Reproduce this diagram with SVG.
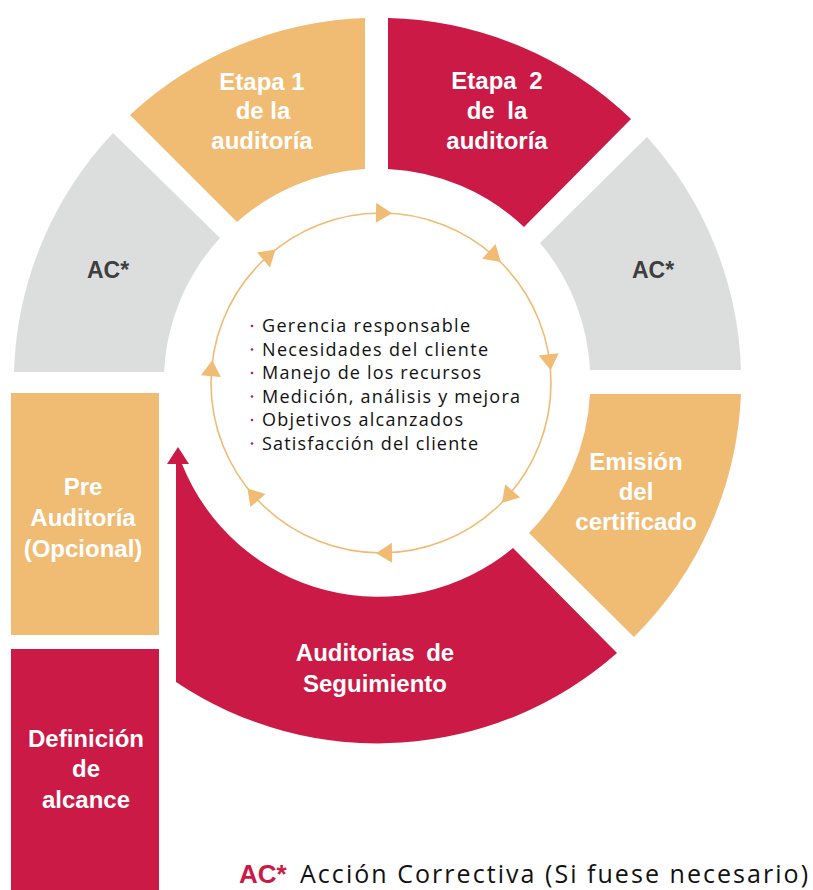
<svg xmlns="http://www.w3.org/2000/svg" width="813" height="890" viewBox="0 0 813 890">
<defs>
<style>
.or{fill:#F0BB73}
.cr{fill:#CA1A45}
.gr{fill:#DCDDDD}
.lbl{font-family:"Liberation Sans",Arial,sans-serif;font-weight:bold;font-size:24px;fill:#FFFFFF;text-anchor:middle}
.ac{font-family:"Liberation Sans",Arial,sans-serif;font-weight:bold;font-size:23px;fill:#3E3E3E;text-anchor:middle}
.li{font-family:"Open Sans","DejaVu Sans",sans-serif;font-size:18px;fill:#111111}
.dot{fill:#CA1A45}
.ring{fill:none;stroke:#F0BB73;stroke-width:1.6}
.ah{fill:#F0BB73}
</style>
<path id="tri" d="M8,0 L-8,-10 L-8,10 Z"/>
</defs>
<rect width="813" height="890" fill="#FFFFFF"/>

<g id="etapa1">
<path class="or" d="M130,115 A364,364 0 0 1 365,18 L365,169 A213,213 0 0 0 237,222 Z"/>
<text class="lbl" x="262" y="90">Etapa 1</text>
<text class="lbl" x="263" y="119">de la</text>
<text class="lbl" x="262" y="149">auditoría</text>
</g>

<g id="etapa2">
<path class="cr" d="M388,18 A364,364 0 0 1 631,119 L524,227 A213,213 0 0 0 388,169 Z"/>
<text class="lbl" x="497" y="89" word-spacing="6">Etapa 2</text>
<text class="lbl" x="497" y="119" word-spacing="6">de la</text>
<text class="lbl" x="497" y="149">auditoría</text>
</g>

<g id="ac-right">
<path class="gr" d="M647,137 A364,364 0 0 1 741,370 L590,370 A213,213 0 0 0 540,243 Z"/>
<text class="ac" x="653" y="278">AC*</text>
</g>

<g id="emision">
<path class="or" d="M741,394 A364,364 0 0 1 634,637 L529,533 A213,213 0 0 0 590,394 Z"/>
<text class="lbl" x="636" y="470">Emisión</text>
<text class="lbl" x="636" y="500">del</text>
<text class="lbl" x="636" y="530">certificado</text>
</g>

<g id="auditorias-seguimiento">
<path class="cr" d="M617,653 A362,362 0 0 1 176,682 L176,464 L167,464 L178,447 L189,464 L182,464 A211,211 0 0 0 513,548 Z"/>
<text class="lbl" x="375" y="661" word-spacing="5">Auditorias de</text>
<text class="lbl" x="375" y="692">Seguimiento</text>
</g>

<g id="ac-left">
<path class="gr" d="M14,372 A364,364 0 0 1 113,133 L220,238 A213,213 0 0 0 164,372 Z"/>
<text class="ac" x="108" y="278">AC*</text>
</g>

<g id="pre-auditoria">
<rect class="or" x="11" y="393" width="148" height="242"/>
<text class="lbl" x="83" y="495">Pre</text>
<text class="lbl" x="83" y="526">Auditoría</text>
<text class="lbl" x="83" y="557">(Opcional)</text>
</g>

<g id="definicion-alcance">
<rect class="cr" x="11" y="649" width="148" height="241"/>
<text class="lbl" x="86" y="747">Definición</text>
<text class="lbl" x="86" y="777">de</text>
<text class="lbl" x="86" y="808">alcance</text>
</g>

<g id="centro">
<circle class="dot" cx="252" cy="326" r="1.3"/>
<circle class="dot" cx="252" cy="349.5" r="1.3"/>
<circle class="dot" cx="252" cy="373" r="1.3"/>
<circle class="dot" cx="252" cy="396.5" r="1.3"/>
<circle class="dot" cx="252" cy="420" r="1.3"/>
<circle class="dot" cx="252" cy="443.5" r="1.3"/>
<text class="li" x="262" y="332" textLength="208" lengthAdjust="spacing">Gerencia responsable</text>
<text class="li" x="262" y="355.5" textLength="226" lengthAdjust="spacing">Necesidades del cliente</text>
<text class="li" x="262" y="379" textLength="219" lengthAdjust="spacing">Manejo de los recursos</text>
<text class="li" x="262" y="402.5" textLength="258" lengthAdjust="spacing">Medición, análisis y mejora</text>
<text class="li" x="262" y="426" textLength="201" lengthAdjust="spacing">Objetivos alcanzados</text>
<text class="li" x="262" y="449.5" textLength="216" lengthAdjust="spacing">Satisfacción del cliente</text>
</g>

<g id="connectors">
<circle class="ring" cx="381" cy="383" r="170"/>
<use href="#tri" class="ah" transform="translate(384,213) rotate(1)"/>
<use href="#tri" class="ah" transform="translate(494.8,256.7) rotate(42)"/>
<use href="#tri" class="ah" transform="translate(549.7,362.3) rotate(83)"/>
<use href="#tri" class="ah" transform="translate(507.3,496.8) rotate(132)"/>
<use href="#tri" class="ah" transform="translate(384,553) rotate(179)"/>
<use href="#tri" class="ah" transform="translate(252.7,494.5) rotate(229)"/>
<use href="#tri" class="ah" transform="translate(211.6,368.2) rotate(275)"/>
<use href="#tri" class="ah" transform="translate(269.5,254.7) rotate(319)"/>
</g>

<g id="leyenda">
<text x="239" y="883" font-family="Liberation Sans, Arial, sans-serif" font-weight="bold" font-size="26" fill="#CA1A45">AC*</text>
<text x="300" y="883" font-family="Open Sans, DejaVu Sans, sans-serif" font-size="25" fill="#111111" textLength="508" lengthAdjust="spacing">Acción Correctiva (Si fuese necesario)</text>
</g>
</svg>
